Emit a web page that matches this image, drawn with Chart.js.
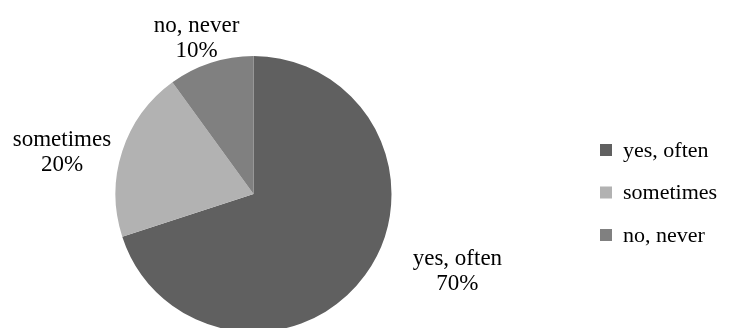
<!DOCTYPE html>
<html>
<head>
<meta charset="utf-8">
<script src="https://cdn.jsdelivr.net/npm/chart.js@4"></script>
<style>
  html, body { margin: 0; padding: 0; background: #fff; }
  #wrap { width: 729px; height: 328px; }
</style>
</head>
<body>
<div id="wrap"><canvas id="pie"></canvas></div>
<script>
// data
var categories = ['yes, often', 'sometimes', 'no, never'];
var shares = [70, 20, 10];
var sliceColors = ['#606060', '#b2b2b2', '#808080'];

var FONT = '"Liberation Serif", "Times New Roman", serif';

// labels outside the slices: name + percent, near the edge of each slice
var outsideLabels = {
  id: 'outsideLabels',
  afterDatasetsDraw: function(chart, args, opts) {
    var ctx = chart.ctx;
    var meta = chart.getDatasetMeta(0);
    ctx.save();
    ctx.font = opts.size + 'px ' + FONT;
    ctx.fillStyle = '#000';
    ctx.textAlign = 'center';
    ctx.textBaseline = 'middle';
    meta.data.forEach(function(arc, i) {
      var p = arc.getProps(['x', 'y', 'startAngle', 'endAngle', 'outerRadius'], true);
      var mid = (p.startAngle + p.endAngle) / 2;
      var dx = Math.cos(mid), dy = Math.sin(mid);
      var r = p.outerRadius + 10;
      var name = chart.data.labels[i];
      var pct = chart.data.datasets[0].data[i] + '%';
      var halfW = Math.max(ctx.measureText(name).width, ctx.measureText(pct).width) / 2;
      var halfH = opts.lineHeight;
      var nudge = opts.nudge[i] || [0, 0];
      var cx = p.x + dx * r + dx * halfW + nudge[0];
      var cy = p.y + dy * r + dy * halfH + nudge[1];
      ctx.fillText(name, cx, cy - opts.lineHeight / 2);
      ctx.fillText(pct, cx, cy + opts.lineHeight / 2);
    });
    ctx.restore();
  }
};

// legend on the right with square swatches
var squareLegend = {
  id: 'squareLegend',
  afterDraw: function(chart, args, opts) {
    var ctx = chart.ctx;
    ctx.save();
    ctx.font = opts.size + 'px ' + FONT;
    ctx.textAlign = 'left';
    ctx.textBaseline = 'middle';
    chart.data.labels.forEach(function(name, i) {
      var y = opts.top + i * opts.step;
      ctx.fillStyle = chart.data.datasets[0].backgroundColor[i];
      ctx.fillRect(opts.left, y - opts.box / 2, opts.box, opts.box);
      ctx.fillStyle = '#000';
      ctx.fillText(name, opts.left + opts.box + 11, y + 1);
    });
    ctx.restore();
  }
};

new Chart(document.getElementById('pie'), {
  type: 'pie',
  data: {
    labels: categories,
    datasets: [{
      data: shares,
      backgroundColor: sliceColors,
      borderWidth: 0,
      radius: 138,
      clip: false
    }]
  },
  options: {
    responsive: true,
    maintainAspectRatio: false,
    animation: false,
    layout: { padding: { left: 0, right: 222, top: 60, bottom: 0 } },
    plugins: {
      legend: { display: false },
      tooltip: { enabled: false },
      outsideLabels: { size: 23, lineHeight: 25, nudge: [[48, -24], [-4, 12], [2, 9]] },
      squareLegend: { size: 22, left: 600, top: 150, step: 42.5, box: 12 }
    }
  },
  plugins: [outsideLabels, squareLegend]
});
</script>
</body>
</html>
